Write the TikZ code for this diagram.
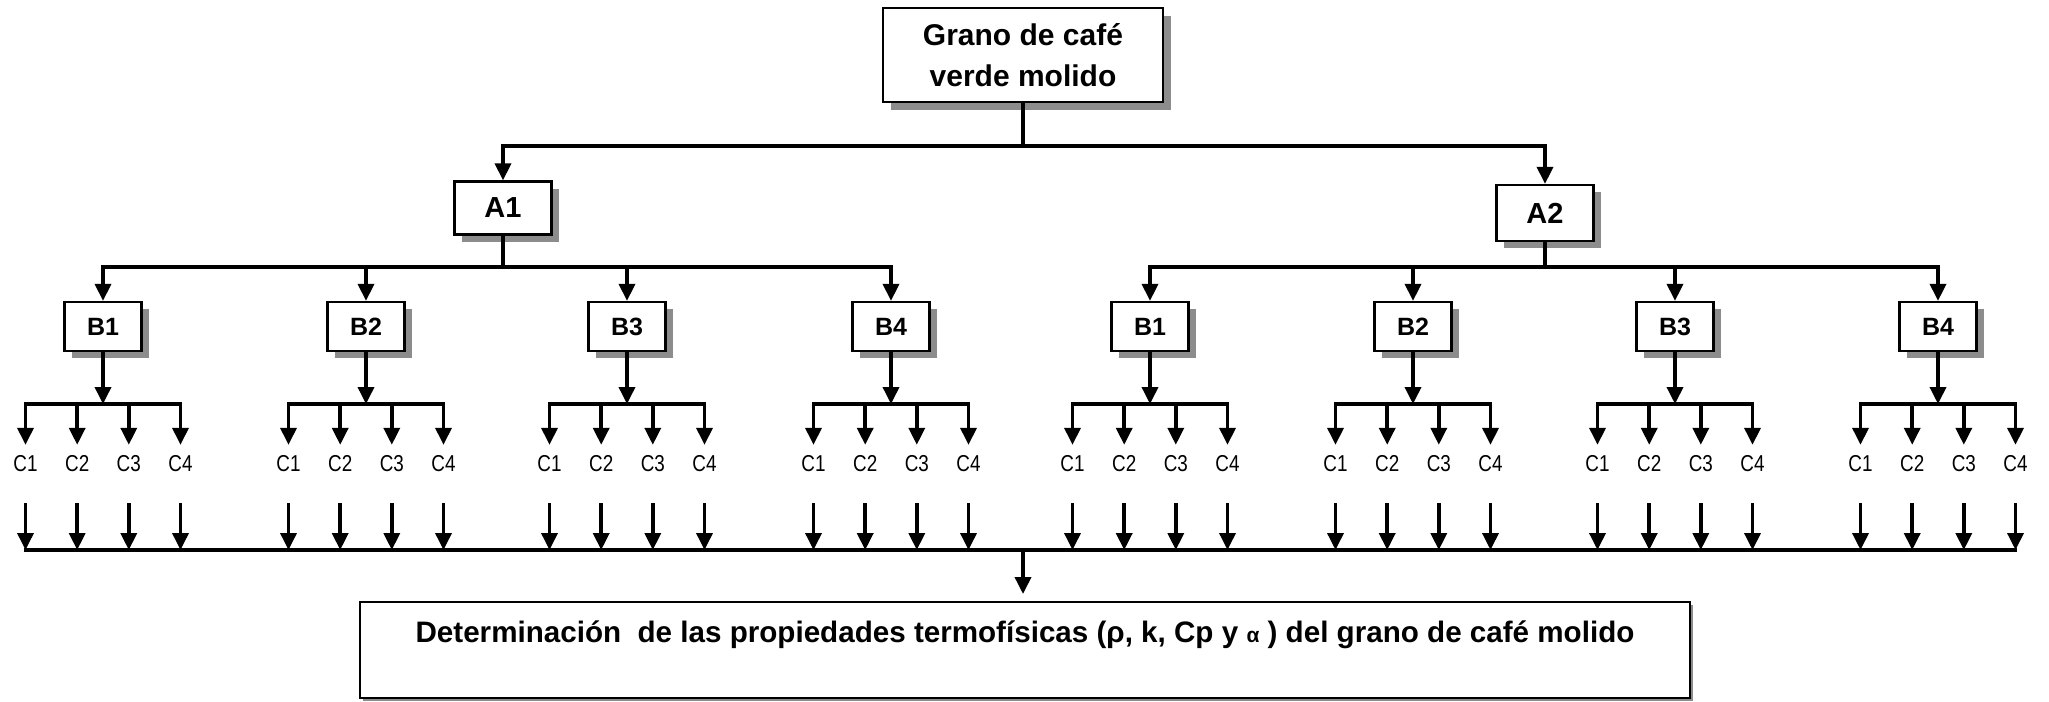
\documentclass[tikz,border=0pt]{standalone}
\usepackage{fontspec}
\setmainfont{Liberation Sans}
\usetikzlibrary{arrows.meta,shadows}
\begin{document}
\begin{tikzpicture}[x=1pt,y=-1pt,
  box/.style={draw=black, line width=2.3pt, fill=white, inner sep=0pt, align=center},
  sh/.style={drop shadow={shadow xshift=#1, shadow yshift=-#1, fill=black!45, opacity=1}},
  conn/.style={line width=3.6pt, line cap=rect},
  arr/.style={line width=3.6pt, -{Triangle[length=17pt,width=16pt]}},
  clab/.style={inner sep=0pt, text height=16pt, text depth=0pt, font=\fontsize{23}{23}\selectfont}
]
\useasboundingbox (0,0) rectangle (2049,701);

% top
\node[box, sh=8pt, minimum width=280pt, minimum height=94pt,
      font=\fontsize{30}{41}\selectfont\bfseries] (top) at (1023,55) {Grano de café\\verde molido};

% A level
\node[box, sh=7pt, minimum width=97pt, minimum height=53pt,
      font=\fontsize{29}{29}\selectfont\bfseries] (A1) at (503,208) {A1};
\node[box, sh=7pt, minimum width=97pt, minimum height=56pt,
      font=\fontsize{29}{29}\selectfont\bfseries] (A2) at (1545,213) {A2};

\coordinate (jA) at (1023,146);
\coordinate (jA1) at (503,146);
\coordinate (jA2) at (1545,146);
\draw[conn] (top.south) -- (jA);
\draw[conn] (jA1) -- (jA2);
\draw[arr] (jA1) -- (A1.north);
\draw[arr] (jA2) -- (A2.north);

% A -> B buses
\coordinate (kA1) at (503,267);
\coordinate (kA2) at (1545,267);
\draw[conn] (A1.south) -- (kA1);
\draw[conn] (A2.south) -- (kA2);
\draw[conn] (103,267) coordinate (bl1) -- (891,267) coordinate (br1);
\draw[conn] (1150,267) coordinate (bl2) -- (1938,267) coordinate (br2);

% B level with C
\foreach \n/\x/\l in {L1/103/B1, L2/366/B2, L3/627/B3, L4/891/B4,
                      R1/1150/B1, R2/1413/B2, R3/1675/B3, R4/1938/B4} {
  \node[box, sh=7pt, minimum width=77pt, minimum height=49pt,
        font=\fontsize{25}{25}\selectfont\bfseries] (B\n) at (\x,326.5) {\l};
  \coordinate (b\n) at (\x,267);
  \draw[arr] (b\n) -- (B\n.north);
  \coordinate (c\n) at (\x,404);
  \draw[arr] (B\n.south) -- (c\n);
  \coordinate (cl\n) at (\x-77.5,404);
  \coordinate (cr\n) at (\x+77.5,404);
  \draw[conn] (cl\n) -- (cr\n);
  \foreach \j/\dx in {1/-77.5, 2/-25.8, 3/25.8, 4/77.5} {
    \coordinate (cc\n\j) at (\x+\dx,404);
    \node[clab] (C\n\j) at (\x+\dx,463) {\scalebox{0.82}[1]{C\j}};
    \draw[arr, shorten >=10pt] (cc\n\j) -- (C\n\j.north);
    \coordinate (d\n\j) at (\x+\dx,550);
    \draw[arr, shorten <=32pt] (C\n\j.south) -- (d\n\j);
  }
}

% bottom bus
\draw[conn] (dL11) -- (dR44);
\coordinate (dm) at (1023,550);

% result box
\node[box, line width=2pt, sh=3pt, minimum width=1330pt, text height=40pt, text depth=56pt,
      inner ysep=0pt, font=\fontsize{29.6}{30}\selectfont\bfseries] (res) at (1025,650)
  {Determinación\ \ de las propiedades termofísicas (ρ, k, Cp y {\fontsize{21}{21}\selectfont α} ) del grano de café molido};

\draw[arr, shorten >=7pt] (dm) -- (dm |- res.north);
\end{tikzpicture}
\end{document}
